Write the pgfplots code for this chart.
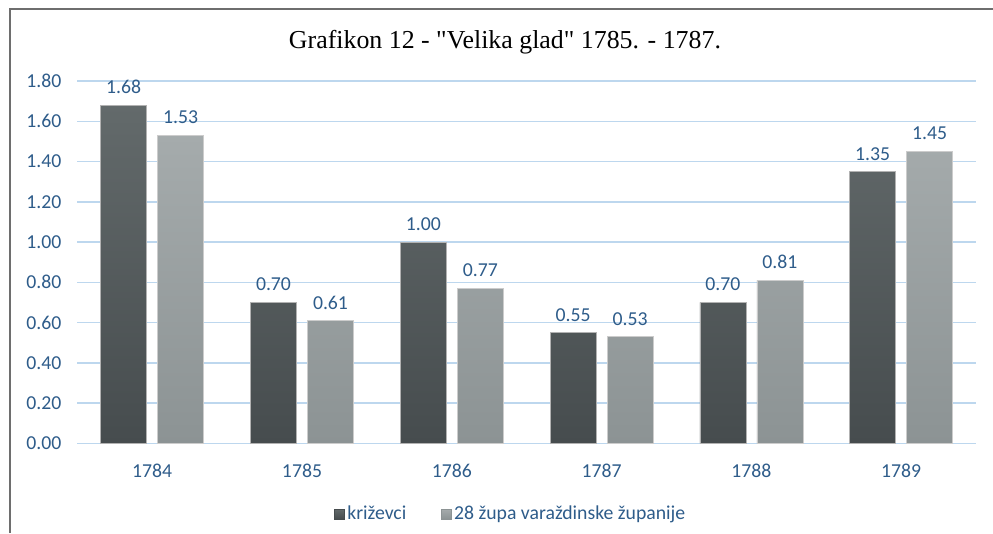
\documentclass[border=0pt]{standalone}
\usepackage{pgfplots}
\pgfplotsset{compat=1.18}
\usepackage{fontspec}
\setmainfont{Carlito}
\newfontfamily\titlefont{Liberation Serif}
\definecolor{lblue}{HTML}{2E5C8A}
\definecolor{gridblue}{HTML}{BDD7EE}
\definecolor{darktop}{HTML}{636A6B}
\definecolor{darkbot}{HTML}{464C4E}
\definecolor{lighttop}{HTML}{A5ABAC}
\definecolor{lightbot}{HTML}{8C9394}
\definecolor{framegray}{HTML}{6E6E6E}
\begin{document}
\begin{tikzpicture}
\path[use as bounding box] (0,0) rectangle (744.75pt,-399.75pt);
\draw[framegray, line width=1.2pt] (7.5pt,-399.75pt) -- (7.5pt,-6.9pt) -- (744.75pt,-6.9pt);
\node[anchor=base, font=\titlefont\fontsize{19.4}{22}\selectfont] at (378.75pt,-36pt) {Grafikon 12 - "Velika glad" 1785. - 1787.};
\begin{axis}[
  at={(58pt,-332.5pt)}, anchor=south west,
  scale only axis, width=674pt, height=271.7pt,
  xmin=-0.5, xmax=5.5, ymin=0, ymax=1.8,
  ybar=8.25pt, bar width=34.5pt,
  xtick={0,1,2,3,4,5},
  xticklabels={1784,1785,1786,1787,1788,1789},
  ytick={0,0.2,0.4,0.6,0.8,1.0,1.2,1.4,1.6,1.8},
  /pgf/number format/.cd, fixed, fixed zerofill, precision=2, assume math mode=true,
  /pgfplots/.cd,
  axis line style={draw=none},
  major tick length=0pt,
  ymajorgrids, grid style={gridblue, line width=1.1pt},
  tick label style={font=\fontsize{14.8}{17}\selectfont, text=lblue},
  yticklabel style={xshift=-8.5pt},
  xticklabel style={yshift=-12pt},
  nodes near coords,
  every node near coord/.append style={font=\fontsize{14.8}{17}\selectfont, text=lblue, yshift=5pt},
  legend columns=2,
  legend style={draw=none, fill=none, at={(0.4826,-0.195)}, anchor=center,
    font=\fontsize{14.8}{17}\selectfont, text=lblue,
    /tikz/every even column/.append style={column sep=24pt}},
  legend cell align=left,
]
\addplot[draw=gray!60, line width=0.4pt, top color=darktop, bottom color=darkbot,
  legend image code/.code={\fill[darkbot] (0pt,-3.7pt) rectangle (7.5pt,3.7pt);}]
  coordinates {(0,1.68) (1,0.70) (2,1.00) (3,0.55) (4,0.70) (5,1.35)};
\addlegendentry{križevci}
\addplot[draw=gray!40, line width=0.4pt, top color=lighttop, bottom color=lightbot,
  legend image code/.code={\fill[lightbot] (0pt,-3.7pt) rectangle (7.5pt,3.7pt);}]
  coordinates {(0,1.53) (1,0.61) (2,0.77) (3,0.53) (4,0.81) (5,1.45)};
\addlegendentry{28 župa varaždinske županije}
\end{axis}
\end{tikzpicture}
\end{document}
